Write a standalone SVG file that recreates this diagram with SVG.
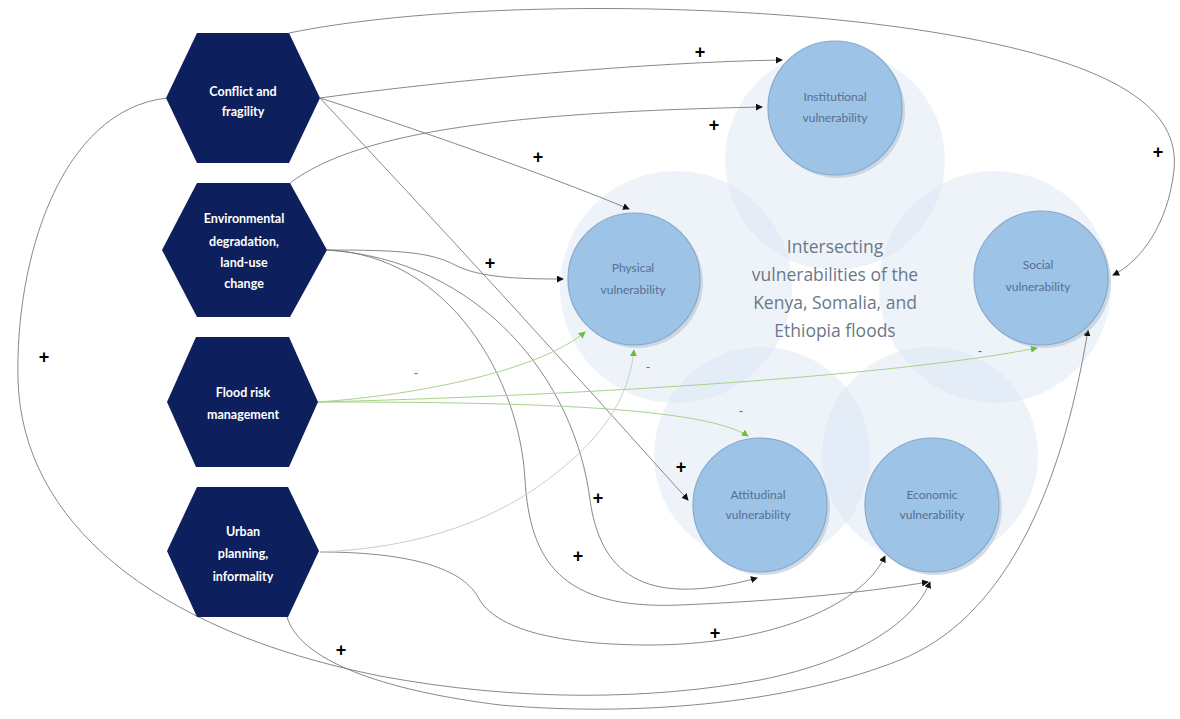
<svg xmlns="http://www.w3.org/2000/svg" width="1180" height="719" viewBox="0 0 1180 719">
<defs>
<style>
.hex{fill:#0d1f5c;}
.ht{font-family:Lato,"Open Sans",sans-serif;font-weight:bold;font-size:12.5px;fill:#ffffff;text-anchor:middle;}
.faint{fill:#d6e3f2;fill-opacity:0.42;}
.node{fill:#9dc3e6;stroke:#86a9cc;stroke-width:1.2;}
.shadow{fill:#b5c4d6;opacity:0.6;}
.nt{font-family:Lato,"Open Sans",sans-serif;font-size:12px;fill:#56708f;text-anchor:middle;}
.ct{font-family:"Open Sans","Noto Sans",sans-serif;font-size:17.5px;fill:#6a7888;text-anchor:middle;}
.c{fill:none;stroke:#7a7a7a;stroke-width:0.9;marker-end:url(#ab);}
.g{fill:none;stroke:#a8d38c;stroke-width:1;marker-end:url(#ag);}
.gg{fill:none;stroke:#c7d3c0;stroke-width:1;marker-end:url(#ag);}
.p{font-family:"Liberation Sans",sans-serif;font-weight:bold;font-size:18px;fill:#000000;text-anchor:middle;}
.m{font-family:"Liberation Sans",sans-serif;font-size:12px;fill:#666666;text-anchor:middle;}
</style>
<marker id="ab" viewBox="0 0 8 8" refX="7" refY="4" markerWidth="7" markerHeight="7" markerUnits="userSpaceOnUse" orient="auto"><path d="M0,0 L8,4 L0,8 z" fill="#111"/></marker>
<marker id="ag" viewBox="0 0 8 8" refX="7" refY="4" markerWidth="7" markerHeight="7" markerUnits="userSpaceOnUse" orient="auto"><path d="M0,0 L8,4 L0,8 z" fill="#6dbb3a"/></marker>
</defs>
<rect width="1180" height="719" fill="#ffffff"/>
<g id="petals">
<circle class="faint" cx="835" cy="160" r="110"/>
<circle class="faint" cx="676" cy="287" r="116"/>
<circle class="faint" cx="995" cy="287" r="116"/>
<circle class="faint" cx="762" cy="455" r="108"/>
<circle class="faint" cx="930" cy="455" r="108"/>
</g>
<g id="center-label">
<text class="ct" x="835" y="253">Intersecting</text>
<text class="ct" x="835" y="281">vulnerabilities of the</text>
<text class="ct" x="835" y="309">Kenya, Somalia, and</text>
<text class="ct" x="835" y="337">Ethiopia floods</text>
</g>
<g id="connectors">
<path class="c" d="M320,98 C450,80 650,62 782,60"/>
<path class="c" d="M320,98 C420,130 560,180 629,209"/>
<path class="c" d="M320,98 Q500,290 688,500"/>
<path class="c" d="M289,33 C450,0 750,0 950,35 C1120,65 1180,110 1174,170 C1168,225 1140,262 1113,275"/>
<path class="c" d="M167,98 C60,110 15,260 18,380 C22,520 150,630 380,676 C520,702 650,700 760,680 C860,660 915,620 930,582"/>
<path class="c" d="M290,183 C360,130 520,112 762,107"/>
<path class="c" d="M327,250 C400,250 430,252 455,265 C480,278 520,279 563,279"/>
<path class="c" d="M327,250 C450,255 520,380 525,480 C530,560 560,610 680,605 C800,600 880,590 928,582"/>
<path class="c" d="M327,250 C480,260 575,380 590,500 C600,570 640,610 757,578"/>
<path class="c" d="M320,552 C400,552 460,565 478,597 C495,630 560,645 650,645 C760,645 860,610 885,556"/>
<path class="c" d="M287,617 C300,660 380,690 500,705 C650,718 800,700 900,660 C1000,620 1060,500 1088,330"/>
<path class="g" d="M318,402 C420,395 540,370 585,332"/>
<path class="g" d="M318,402 C600,395 900,375 1037,348"/>
<path class="g" d="M318,402 C500,402 700,405 748,436"/>
<path class="gg" d="M320,552 C420,548 500,520 560,470 C610,430 630,390 634,350"/>
<text class="p" x="700" y="58">+</text>
<text class="p" x="714" y="131">+</text>
<text class="p" x="538" y="163">+</text>
<text class="p" x="1158" y="158">+</text>
<text class="p" x="490" y="269">+</text>
<text class="p" x="44" y="363">+</text>
<text class="p" x="681" y="473">+</text>
<text class="p" x="598" y="504">+</text>
<text class="p" x="578" y="562">+</text>
<text class="p" x="715" y="639">+</text>
<text class="p" x="341" y="656">+</text>
<text class="m" x="416" y="377">-</text>
<text class="m" x="648" y="371">-</text>
<text class="m" x="741" y="415">-</text>
<text class="m" x="980" y="355">-</text>
</g>
<g id="conflict">
<polygon class="hex" points="197,33 289,33 320,98 289,163 197,163 166,98"/>
<text class="ht" x="243" y="96">Conflict and</text>
<text class="ht" x="243" y="116">fragility</text>
</g>
<g id="environmental">
<polygon class="hex" points="197,183 290,183 327,250 290,317 197,317 162,250"/>
<text class="ht" x="244" y="223">Environmental</text>
<text class="ht" x="244" y="246">degradation,</text>
<text class="ht" x="244" y="267">land-use</text>
<text class="ht" x="244" y="288">change</text>
</g>
<g id="flood">
<polygon class="hex" points="196,337 289,337 318,402 289,467 196,467 167,402"/>
<text class="ht" x="243" y="397">Flood risk</text>
<text class="ht" x="243" y="419">management</text>
</g>
<g id="urban">
<polygon class="hex" points="197,487 288,487 319,551 288,617 197,617 167,551"/>
<text class="ht" x="243" y="536">Urban</text>
<text class="ht" x="243" y="558">planning,</text>
<text class="ht" x="243" y="581">informality</text>
</g>
<g id="institutional">
<circle class="shadow" cx="838" cy="111" r="67"/>
<circle class="node" cx="835" cy="108" r="67"/>
<text class="nt" x="835" y="101">Institutional</text>
<text class="nt" x="835" y="122">vulnerability</text>
</g>
<g id="physical">
<circle class="shadow" cx="637" cy="282" r="66"/>
<circle class="node" cx="634" cy="279" r="66"/>
<text class="nt" x="633" y="272">Physical</text>
<text class="nt" x="633" y="294">vulnerability</text>
</g>
<g id="social">
<circle class="shadow" cx="1044" cy="281" r="67"/>
<circle class="node" cx="1041" cy="278" r="67"/>
<text class="nt" x="1038" y="269">Social</text>
<text class="nt" x="1038" y="291">vulnerability</text>
</g>
<g id="attitudinal">
<circle class="shadow" cx="763" cy="508" r="67"/>
<circle class="node" cx="760" cy="505" r="67"/>
<text class="nt" x="758" y="499">Attitudinal</text>
<text class="nt" x="758" y="519">vulnerability</text>
</g>
<g id="economic">
<circle class="shadow" cx="935" cy="508" r="67"/>
<circle class="node" cx="932" cy="505" r="67"/>
<text class="nt" x="932" y="499">Economic</text>
<text class="nt" x="932" y="519">vulnerability</text>
</g>
</svg>
